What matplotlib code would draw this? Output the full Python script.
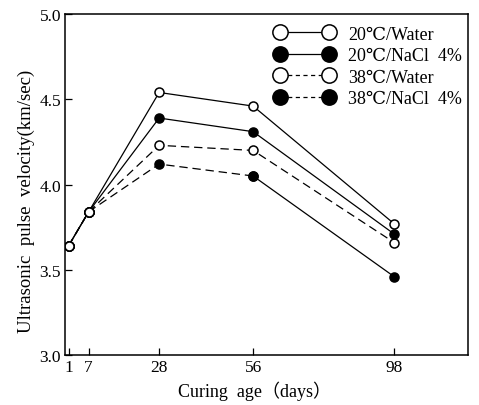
import matplotlib
matplotlib.use("Agg")

import matplotlib.pyplot as plt
from matplotlib.lines import Line2D

plt.rcParams['font.family'] = ['Liberation Serif', 'DejaVu Serif', 'Noto Sans CJK JP']
plt.rcParams['lines.scale_dashes'] = False

# Curing age (days) and pulse velocity (km/sec)
days = [1, 7, 28, 56, 98]
water_20 = [3.64, 3.84, 4.54, 4.46, 3.77]
nacl_20 = [3.64, 3.84, 4.39, 4.31, 3.71]
water_38 = [3.64, 3.84, 4.23, 4.20, 3.66]
nacl_38 = [3.64, 3.84, 4.12, 4.05, 3.46]

labels = ["20\u2103/Water", "20\u2103/NaCl  4%", "38\u2103/Water", "38\u2103/NaCl  4%"]
xticks = [1, 7, 28, 56, 98]
yticks = [3.0, 3.5, 4.0, 4.5, 5.0]

fig = plt.figure(figsize=(4.79, 4.06), dpi=100)
ax = fig.add_axes([0.136, 0.123, 0.841, 0.84])

dash = (0, (6, 3.5))
open_kw = dict(marker='o', ms=6.5, mfc='white', mec='black', mew=1.1, color='black', lw=0.9)
fill_kw = dict(marker='o', ms=6.5, mfc='black', mec='black', mew=1.1, color='black', lw=0.9)

# dashed series first so the solid lines and markers sit on top
ax.plot(days, water_38, ls=dash, **open_kw)
# in the picture the 38C/NaCl line is dashed up to 56 days, solid after
ax.plot(days[:4], nacl_38[:4], ls=dash, **fill_kw)
ax.plot(days[3:], nacl_38[3:], ls='-', **fill_kw)
ax.plot(days, nacl_20, ls='-', **fill_kw)
ax.plot(days, water_20, ls='-', **open_kw)
# first two points are open circles for every series
ax.plot(days[:2], water_20[:2], ls='none', **open_kw)

ax.set_xlim(0, 120)
ax.set_ylim(3.0, 5.0)
ax.set_xticks(xticks)
ax.set_yticks(yticks)
ax.set_yticklabels([f"{v:.1f}" for v in yticks])
ax.tick_params(direction='in', length=5, width=0.9, labelsize=12.5, pad=3)
for s in ax.spines.values():
    s.set_linewidth(1.1)

ax.set_xlabel("Curing  age\uff08days\uff09", fontsize=13)
ax.set_ylabel("Ultrasonic  pulse  velocity(km/sec)", fontsize=13.5)
ax.xaxis.set_label_coords(0.47, -0.075)
ax.yaxis.set_label_coords(-0.075, 0.455)

leg_kw = dict(marker='o', ms=11, mec='black', mew=1.1, color='black', lw=0.9)
handles = [
    Line2D([], [], ls='-', mfc='white', **leg_kw),
    Line2D([], [], ls='-', mfc='black', **leg_kw),
    Line2D([], [], ls=(0, (3, 2.5)), mfc='white', **leg_kw),
    Line2D([], [], ls=(0, (3, 2.5)), mfc='black', **leg_kw),
]
ax.legend(handles, labels, loc='upper left', bbox_to_anchor=(0.488, 1.003),
          frameon=False, numpoints=2, fontsize=13, handlelength=3.3,
          handletextpad=0.8, labelspacing=0.25, borderaxespad=0.3)

fig.savefig("out.png", dpi=100)
